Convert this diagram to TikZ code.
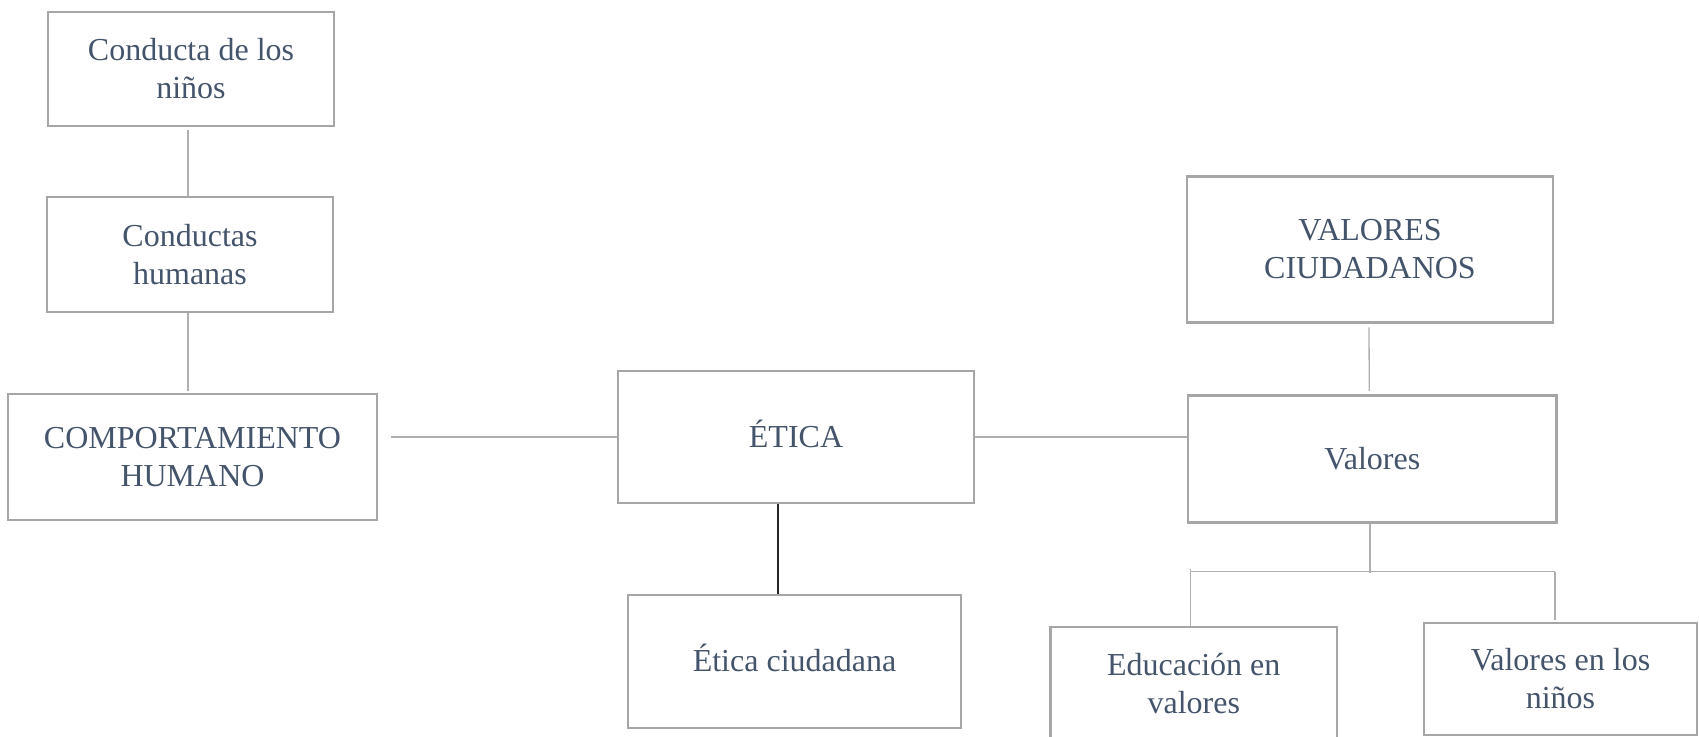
\documentclass[tikz,border=0pt]{standalone}
\usepackage{fontspec}
\setmainfont{Liberation Serif}
\definecolor{boxgray}{HTML}{A6A6A6}
\definecolor{txt}{HTML}{44546A}
\definecolor{linegray}{HTML}{AFAFAF}
\begin{document}
\begin{tikzpicture}[x=1pt,y=-1pt,
 box/.style={draw=boxgray, line width=2.5pt, rectangle, align=center, text=txt, font=\fontsize{32}{38}\selectfont, inner sep=0pt},
 onebox/.style={box, text height=20pt, text depth=0pt},
 conn/.style={draw=linegray, line width=1.3pt},
 darkconn/.style={draw=black!85, line width=1.8pt}]
\useasboundingbox (0,0) rectangle (1699,736);
\clip (0,0) rectangle (1699,736);

\node[box, minimum width=286pt, minimum height=114pt] (n1) at (191,69) {Conducta de los\\niños};
\node[box, minimum width=286pt, minimum height=115pt] (n2) at (190,254.5) {Conductas\\humanas};
\node[box, minimum width=369pt, minimum height=126pt] (n3) at (192.5,457) {COMPORTAMIENTO\\HUMANO};
\node[onebox, minimum width=356pt, minimum height=132pt] (etica) at (796,437) {ÉTICA};
\node[onebox, minimum width=333pt, minimum height=133pt] (eticac) at (794.5,661.5) {Ética ciudadana};
\node[box, minimum width=366pt, minimum height=146pt] (vc) at (1370,249.5) {VALORES\\CIUDADANOS};
\node[onebox, minimum width=368.5pt, minimum height=127pt] (valores) at (1372.25,459) {Valores};
\node[box, minimum width=286.5pt, minimum height=113pt] (edu) at (1193.75,683.5) {Educación en\\valores};
\node[box, minimum width=273pt, minimum height=112pt] (vn) at (1560.5,679) {Valores en los\\niños};

\coordinate (bm) at (1370,571.5);
\coordinate (bl) at (1190.5,571.5);
\coordinate (brt) at (1555,571.5);

\draw[conn] ([xshift=-3pt,yshift=-3pt]n1.south) -- ([xshift=-2pt]n2.north);
\draw[conn] ([xshift=-2pt]n2.south) -- ([xshift=-4.5pt,yshift=2pt]n3.north);
\draw[conn] ([xshift=13pt,yshift=20pt]n3.east) -- (etica.west);
\draw[conn] (etica.east) -- (etica.east -| valores.west);
\draw[conn] ([xshift=-1pt,yshift=-3.5pt]vc.south) -- ([xshift=-3pt,yshift=3.5pt]valores.north);
\draw[darkconn] ([xshift=-18pt]etica.south) -- ([xshift=-18pt]etica.south |- eticac.north);
\draw[conn] (valores.south -| bm) -- ([yshift=-1.5pt]bm);
\draw[conn] (bl) -- (brt);
\draw[conn] ([yshift=3pt]bl) -- (bl |- edu.north);
\draw[conn] (brt) -- ([yshift=2pt]brt |- vn.north);
\end{tikzpicture}
\end{document}
